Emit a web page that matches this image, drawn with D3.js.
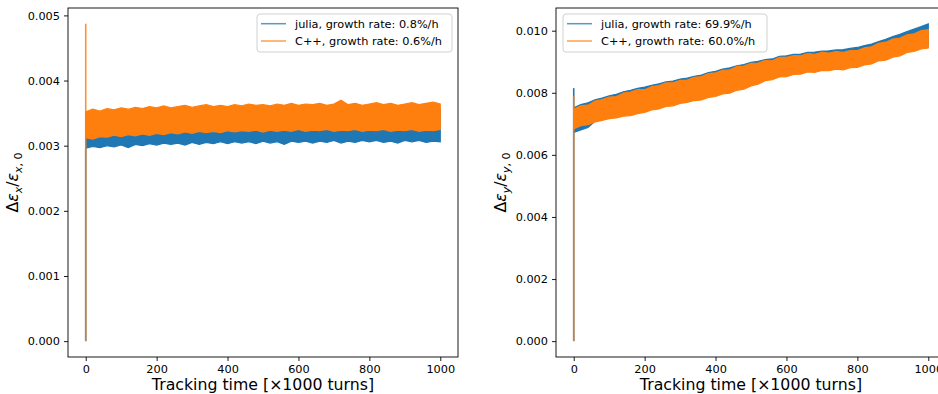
<!DOCTYPE html>
<html>
<head>
<meta charset="utf-8">
<script src="https://cdn.jsdelivr.net/npm/d3@7"></script>
<style>
  html, body { margin: 0; padding: 0; background: #fff; }
  svg { display: block; font-family: "DejaVu Sans", sans-serif; }
</style>
</head>
<body>
<svg id="chart" width="938" height="394"></svg>
<script>
// Sample times [x1000 turns]
const times = [0,20,40,60,80,100,120,140,160,180,200,220,240,260,280,300,320,340,360,380,
  400,420,440,460,480,500,520,540,560,580,600,620,640,660,680,700,720,740,760,780,
  800,820,840,860,880,900,920,940,960,980,1000];

// Horizontal emittance: band envelopes (min / max of the turn-by-turn signal)
const xJuliaLow = [0.00296,0.00299,0.00297,0.00300,0.00298,0.00301,0.00297,0.00302,0.00300,0.00303,
  0.00301,0.00304,0.00302,0.00304,0.00301,0.00305,0.00302,0.00305,0.00303,0.00306,
  0.00303,0.00306,0.00304,0.00306,0.00303,0.00307,0.00304,0.00306,0.00302,0.00307,
  0.00305,0.00307,0.00304,0.00307,0.00305,0.00308,0.00304,0.00307,0.00305,0.00308,
  0.00306,0.00308,0.00305,0.00307,0.00304,0.00308,0.00306,0.00308,0.00305,0.00307,0.00306];
const xJuliaHigh = [0.00338,0.00340,0.00341,0.00342,0.00343,0.00344,0.00344,0.00345,0.00346,0.00346,
  0.00347,0.00347,0.00348,0.00348,0.00349,0.00349,0.00350,0.00350,0.00350,0.00351,
  0.00351,0.00351,0.00352,0.00352,0.00352,0.00352,0.00353,0.00353,0.00353,0.00353,
  0.00354,0.00354,0.00354,0.00354,0.00354,0.00355,0.00355,0.00355,0.00355,0.00355,
  0.00355,0.00356,0.00356,0.00356,0.00356,0.00356,0.00356,0.00357,0.00357,0.00357,0.00357];
const xCppLow = [0.00312,0.00310,0.00314,0.00313,0.00316,0.00314,0.00317,0.00315,0.00318,0.00316,
  0.00319,0.00317,0.00320,0.00318,0.00321,0.00319,0.00322,0.00320,0.00322,0.00320,
  0.00323,0.00321,0.00323,0.00322,0.00324,0.00321,0.00324,0.00322,0.00324,0.00322,
  0.00325,0.00322,0.00324,0.00323,0.00325,0.00322,0.00324,0.00323,0.00325,0.00322,
  0.00324,0.00323,0.00325,0.00322,0.00324,0.00323,0.00325,0.00322,0.00324,0.00323,0.00325];
const xCppHigh = [0.00352,0.00356,0.00353,0.00357,0.00355,0.00358,0.00356,0.00359,0.00357,0.00360,
  0.00358,0.00361,0.00358,0.00360,0.00362,0.00359,0.00361,0.00363,0.00360,0.00362,
  0.00360,0.00363,0.00361,0.00364,0.00362,0.00363,0.00361,0.00364,0.00362,0.00365,
  0.00362,0.00364,0.00363,0.00365,0.00362,0.00364,0.00370,0.00363,0.00365,0.00362,
  0.00364,0.00366,0.00363,0.00365,0.00362,0.00364,0.00366,0.00363,0.00365,0.00367,0.00364];
// First-turn excursion at t = 0 (from zero up to the first sample)
const xJuliaSpike = [0, 0.00296];
const xCppSpike = [0, 0.00487];

// Vertical emittance: band envelopes
const yJuliaLow = [0.00672,0.00680,0.00688,0.00708,0.00716,0.00720,0.00724,0.00728,0.00731,0.00737,
  0.00742,0.00749,0.00754,0.00760,0.00764,0.00770,0.00775,0.00779,0.00784,0.00789,
  0.00795,0.00800,0.00806,0.00812,0.00819,0.00826,0.00835,0.00843,0.00849,0.00855,
  0.00859,0.00863,0.00867,0.00871,0.00874,0.00876,0.00878,0.00880,0.00882,0.00885,
  0.00889,0.00894,0.00900,0.00907,0.00913,0.00919,0.00927,0.00934,0.00941,0.00945,0.00949];
const yJuliaHigh = [0.00752,0.00762,0.00768,0.00777,0.00783,0.00790,0.00795,0.00803,0.00808,0.00814,
  0.00818,0.00824,0.00829,0.00835,0.00838,0.00844,0.00847,0.00853,0.00857,0.00865,
  0.00869,0.00876,0.00880,0.00887,0.00891,0.00898,0.00901,0.00907,0.00909,0.00917,
  0.00919,0.00924,0.00925,0.00930,0.00931,0.00934,0.00935,0.00938,0.00939,0.00943,
  0.00946,0.00952,0.00957,0.00965,0.00972,0.00981,0.00988,0.00997,0.01005,0.01013,0.01022];
const yCppLow = [0.00684,0.00694,0.00697,0.00706,0.00711,0.00717,0.00719,0.00725,0.00726,0.00733,
  0.00737,0.00745,0.00748,0.00756,0.00758,0.00766,0.00769,0.00775,0.00777,0.00785,
  0.00788,0.00796,0.00799,0.00808,0.00812,0.00822,0.00828,0.00839,0.00842,0.00851,
  0.00852,0.00859,0.00860,0.00867,0.00866,0.00872,0.00871,0.00876,0.00874,0.00881,
  0.00882,0.00890,0.00893,0.00903,0.00905,0.00915,0.00919,0.00930,0.00933,0.00941,0.00944];
const yCppHigh = [0.00748,0.00758,0.00760,0.00773,0.00778,0.00786,0.00788,0.00799,0.00802,0.00810,
  0.00810,0.00820,0.00823,0.00832,0.00832,0.00840,0.00841,0.00850,0.00852,0.00862,
  0.00864,0.00872,0.00874,0.00884,0.00886,0.00895,0.00896,0.00904,0.00903,0.00914,
  0.00914,0.00920,0.00919,0.00926,0.00924,0.00930,0.00928,0.00933,0.00930,0.00936,
  0.00936,0.00945,0.00948,0.00959,0.00963,0.00973,0.00976,0.00987,0.00990,0.01000,0.01003];
const yJuliaSpike = [0, 0.00815];
const yCppSpike = [0, 0.00790];

const xTicks = [0, 200, 400, 600, 800, 1000];
const xTicksLeftY = [0, 0.001, 0.002, 0.003, 0.004, 0.005];
const xTicksRightY = [0, 0.002, 0.004, 0.006, 0.008, 0.010];
const seriesNames = ["julia", "C++"];
const xRates = ["0.8%/h", "0.6%/h"];
const yRates = ["69.9%/h", "60.0%/h"];
const colors = ["#1f77b4", "#ff7f0e"];

const svg = d3.select("#chart");

function zipBand(low, high) {
  return times.map((t, i) => ({ t, lo: low[i], hi: high[i] }));
}

function panel(opts) {
  const { left, right, top, bottom, bands, spikes, yTicks, plane, rates, legendX, legendW } = opts;
  const g = svg.append("g");

  // matplotlib-style 5% margins around the data
  const allY = bands.flatMap(b => b.flatMap(d => [d.lo, d.hi])).concat(spikes.flat());
  const yMin = d3.min(allY), yMax = d3.max(allY);
  const yPad = 0.05 * (yMax - yMin);
  const tMin = d3.min(times), tMax = d3.max(times);
  const tPad = 0.05 * (tMax - tMin);

  const x = d3.scaleLinear().domain([tMin - tPad, tMax + tPad]).range([left, right]);
  const y = d3.scaleLinear().domain([yMin - yPad, yMax + yPad]).range([bottom, top]);

  const clipId = "clip-" + plane;
  svg.append("clipPath").attr("id", clipId)
    .append("rect").attr("x", left).attr("y", top).attr("width", right - left).attr("height", bottom - top);

  const plot = g.append("g").attr("clip-path", `url(#${clipId})`);

  const area = d3.area().x(d => x(d.t)).y0(d => y(d.lo)).y1(d => y(d.hi));

  bands.forEach((band, i) => {
    // Starting spike at t = 0
    plot.append("line")
      .attr("x1", x(0)).attr("x2", x(0))
      .attr("y1", y(spikes[i][0])).attr("y2", y(spikes[i][1]))
      .attr("stroke", colors[i]).attr("stroke-width", 1.6)
      .attr("opacity", i === 1 ? 0.85 : 1);
    plot.append("path").datum(band)
      .attr("d", area)
      .attr("fill", colors[i])
      .attr("stroke", colors[i])
      .attr("stroke-width", 1.2)
      .attr("stroke-linejoin", "miter");
  });

  // Axes
  const xAxis = d3.axisBottom(x).tickValues(xTicks).tickSize(4).tickPadding(4).tickFormat(d3.format("d"));
  const yAxis = d3.axisLeft(y).tickValues(yTicks).tickSize(4).tickPadding(4).tickFormat(d3.format(".3f"));

  const gx = g.append("g").attr("transform", `translate(0,${bottom})`).call(xAxis);
  const gy = g.append("g").attr("transform", `translate(${left},0)`).call(yAxis);
  [gx, gy].forEach(a => {
    a.select(".domain").remove();
    a.selectAll("text").attr("font-size", "11.3px").attr("fill", "#000").attr("font-family", "DejaVu Sans");
    a.selectAll("line").attr("stroke", "#000").attr("stroke-width", 0.9);
  });

  // Frame
  g.append("rect")
    .attr("x", left).attr("y", top).attr("width", right - left).attr("height", bottom - top)
    .attr("fill", "none").attr("stroke", "#000").attr("stroke-width", 0.9);

  // X label
  g.append("text")
    .attr("x", (left + right) / 2).attr("y", 390)
    .attr("text-anchor", "middle").attr("font-size", "15.75px")
    .text("Tracking time [×1000 turns]");

  // Y label: Δε_p / ε_p,0
  const yl = g.append("text")
    .attr("transform", `translate(${left - 50},${(top + bottom) / 2}) rotate(-90)`)
    .attr("text-anchor", "middle").attr("font-size", "15.75px");
  yl.append("tspan").text("Δ");
  yl.append("tspan").attr("font-style", "italic").text("ε");
  yl.append("tspan").attr("font-style", "italic").attr("font-size", "11px").attr("dy", 3.5).text(plane);
  yl.append("tspan").attr("dy", -3.5).text("/");
  yl.append("tspan").attr("font-style", "italic").text("ε");
  yl.append("tspan").attr("font-style", "italic").attr("font-size", "11px").attr("dy", 3.5).text(plane);
  yl.append("tspan").attr("font-size", "11px").text(", 0");

  // Legend
  const lg = g.append("g").attr("transform", `translate(${legendX},14)`);
  lg.append("rect")
    .attr("width", legendW).attr("height", 38).attr("rx", 3)
    .attr("fill", "#fff").attr("fill-opacity", 0.8)
    .attr("stroke", "#cccccc").attr("stroke-width", 0.9);
  seriesNames.forEach((name, i) => {
    const yy = 9.7 + i * 17.3;
    lg.append("line")
      .attr("x1", 4).attr("x2", 29).attr("y1", yy).attr("y2", yy)
      .attr("stroke", colors[i]).attr("stroke-width", 1.5).attr("opacity", 0.75);
    lg.append("text")
      .attr("x", 38).attr("y", yy + 4)
      .attr("font-size", "11.3px").attr("fill", "#000")
      .text(`${name}, growth rate: ${rates[i]}`);
  });
}

panel({
  left: 68, right: 458, top: 8, bottom: 357,
  bands: [zipBand(xJuliaLow, xJuliaHigh), zipBand(xCppLow, xCppHigh)],
  spikes: [xJuliaSpike, xCppSpike],
  yTicks: xTicksLeftY, plane: "x", rates: xRates,
  legendX: 257, legendW: 195
});

panel({
  left: 556, right: 946, top: 8, bottom: 357,
  bands: [zipBand(yJuliaLow, yJuliaHigh), zipBand(yCppLow, yCppHigh)],
  spikes: [yJuliaSpike, yCppSpike],
  yTicks: xTicksRightY, plane: "y", rates: yRates,
  legendX: 563, legendW: 204
});
</script>
</body>
</html>
